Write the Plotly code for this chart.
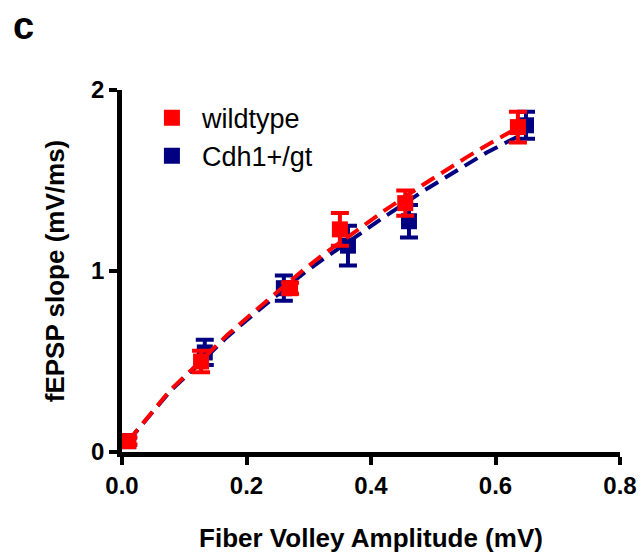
import plotly.graph_objects as go

# ---- data ----
wt_x = [0.01, 0.127, 0.27, 0.35, 0.455, 0.636]
wt_y = [0.06, 0.50, 0.905, 1.23, 1.375, 1.795]
wt_err = [0.02, 0.06, 0.03, 0.09, 0.07, 0.085]

cdh_x = [0.01, 0.133, 0.26, 0.363, 0.461, 0.649]
cdh_y = [0.06, 0.55, 0.905, 1.14, 1.275, 1.805]
cdh_err = [0.02, 0.07, 0.07, 0.11, 0.09, 0.075]

# fitted curves
wt_fit_x = [0.01, 0.077, 0.112, 0.169, 0.206, 0.291, 0.321, 0.39, 0.422, 0.483, 0.519, 0.552, 0.586, 0.62, 0.64]
wt_fit_y = [0.06, 0.34, 0.455, 0.646, 0.757, 1.005, 1.085, 1.255, 1.335, 1.475, 1.555, 1.625, 1.695, 1.76, 1.80]
cdh_fit_x = [0.01, 0.077, 0.112, 0.169, 0.206, 0.291, 0.321, 0.39, 0.422, 0.483, 0.519, 0.552, 0.586, 0.62, 0.65]
cdh_fit_y = [0.06, 0.335, 0.448, 0.636, 0.745, 0.985, 1.06, 1.225, 1.30, 1.44, 1.515, 1.585, 1.655, 1.715, 1.765]

x_ticks = [0.0, 0.2, 0.4, 0.6, 0.8]
x_tick_text = ["0.0", "0.2", "0.4", "0.6", "0.8"]
y_ticks = [0, 1, 2]
y_tick_text = ["0", "1", "2"]

RED = "#FF0000"
BLUE = "#000080"
FONT = "Liberation Sans, Arial, sans-serif"

fig = go.Figure()

fig.add_trace(go.Scatter(x=cdh_fit_x, y=cdh_fit_y, mode="lines", showlegend=False,
                         line=dict(color=BLUE, width=4, dash="15px,8px"), hoverinfo="skip"))
fig.add_trace(go.Scatter(x=cdh_x, y=cdh_y, mode="markers", name="Cdh1+/gt", legendrank=2,
                         marker=dict(symbol="square", size=16, color=BLUE),
                         error_y=dict(type="data", array=cdh_err, color=BLUE, thickness=4, width=9)))
fig.add_trace(go.Scatter(x=wt_fit_x, y=wt_fit_y, mode="lines", showlegend=False,
                         line=dict(color=RED, width=4, dash="15px,8px"), hoverinfo="skip"))
fig.add_trace(go.Scatter(x=wt_x, y=wt_y, mode="markers", name="wildtype", legendrank=1,
                         marker=dict(symbol="square", size=16, color=RED),
                         error_y=dict(type="data", array=wt_err, color=RED, thickness=4, width=9)))

fig.update_layout(
    width=644, height=553,
    margin=dict(l=122, r=24, t=90, b=101, autoexpand=False),
    paper_bgcolor="white", plot_bgcolor="white",
    font=dict(family=FONT, color="black"),
    legend=dict(x=0.04, y=0.99, xanchor="left", yanchor="top",
                font=dict(family=FONT, size=27, color="black"),
                bgcolor="rgba(0,0,0,0)", itemwidth=50),
    xaxis=dict(range=[0, 0.8], tickvals=x_ticks, ticktext=x_tick_text, automargin=False,
               showgrid=False, zeroline=False, showline=True, linewidth=4.5, linecolor="black",
               ticks="outside", ticklen=8, tickwidth=4, tickcolor="black",
               tickfont=dict(family=FONT, size=24, weight="bold"),
               title=dict(text="Fiber Volley Amplitude (mV)", standoff=34,
                          font=dict(family=FONT, size=26, weight="bold"))),
    yaxis=dict(range=[0, 2], tickvals=y_ticks, ticktext=y_tick_text, automargin=False,
               showgrid=False, zeroline=False, showline=True, linewidth=4.5, linecolor="black",
               ticks="outside", ticklen=8, tickwidth=4, tickcolor="black",
               tickfont=dict(family=FONT, size=24, weight="bold"),
               title=dict(text="fEPSP slope (mV/ms)", standoff=20,
                          font=dict(family=FONT, size=26, weight="bold"))),
    annotations=[dict(text="<b>c</b>", xref="paper", yref="paper",
                      x=(23 - 122) / 498, y=(452 - 26) / 362,
                      xanchor="center", yanchor="middle", showarrow=False,
                      font=dict(family=FONT, size=38, color="black"))],
)

fig.write_html("out.html")
